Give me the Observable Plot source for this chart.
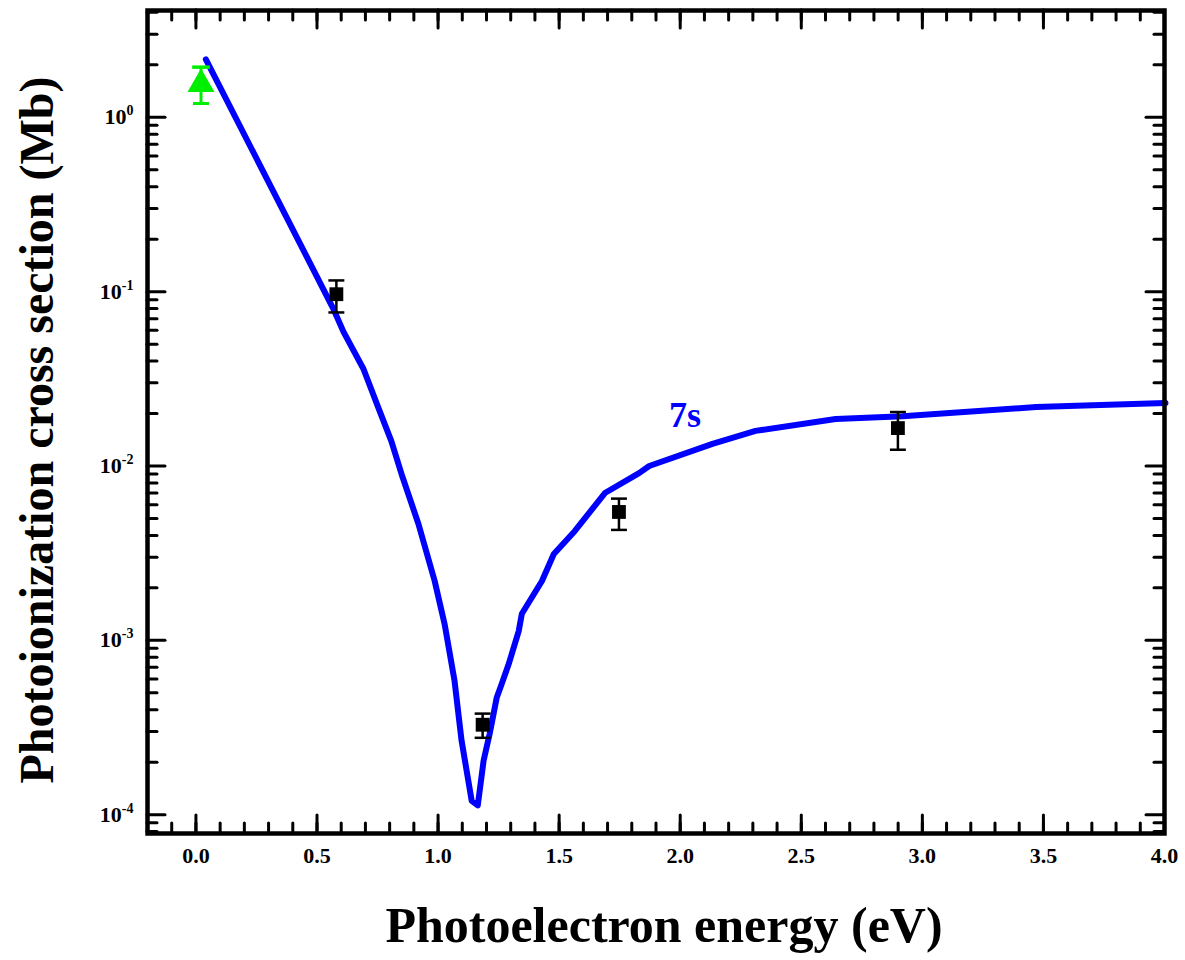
<!DOCTYPE html>
<html>
<head>
<meta charset="utf-8">
<script src="https://cdn.jsdelivr.net/npm/d3@7"></script>
<script src="https://cdn.jsdelivr.net/npm/@observablehq/plot@0.6"></script>
<style>
  html, body { margin: 0; padding: 0; background: #ffffff; }
  #chart svg { display: block; }
</style>
</head>
<body>
<div id="chart"></div>
<script>
// ---- Theory curve (7s) ----
const curveX = [0.041, 0.567, 0.609, 0.692, 0.754, 0.807, 0.849, 0.919, 0.986, 1.027, 1.068, 1.097, 1.139, 1.164, 1.188, 1.213, 1.242, 1.263, 1.292, 1.333, 1.346, 1.429, 1.478, 1.565, 1.689, 1.830, 1.872, 2.133, 2.311, 2.642, 2.919, 3.470, 4.004];
const curveY = [2.15, 0.080, 0.059, 0.036, 0.0215, 0.0139, 0.0090, 0.00465, 0.00219, 0.00124, 5.86e-4, 2.66e-4, 1.20e-4, 1.13e-4, 2.04e-4, 2.91e-4, 4.68e-4, 5.63e-4, 7.33e-4, 1.13e-3, 1.42e-3, 2.19e-3, 3.13e-3, 4.24e-3, 7.0e-3, 9.1e-3, 0.0100, 0.0134, 0.0159, 0.0186, 0.0193, 0.0218, 0.0230];

// ---- Experimental points (black squares) ----
const expX  = [0.58, 1.184, 1.747, 2.899];
const expY  = [0.0967, 3.28e-4, 5.45e-3, 0.0165];
const expLo = [0.076, 2.76e-4, 4.3e-3, 0.0124];
const expHi = [0.116, 3.8e-4, 6.5e-3, 0.0204];

// ---- Experimental point (green triangle) ----
const triX  = [0.021];
const triY  = [1.55];
const triLo = [1.2];
const triHi = [1.94];

// ---- Annotation ----
const annText = ["7s"];
const annX = [2.02];
const annY = [0.0194];

// ---- Axes ----
const xTickValues = [0.0, 0.5, 1.0, 1.5, 2.0, 2.5, 3.0, 3.5, 4.0];
const xTickLabels = ["0.0", "0.5", "1.0", "1.5", "2.0", "2.5", "3.0", "3.5", "4.0"];
const xMinorValues = d3.range(-1, 40).map(i => i / 10);
const yTickValues = [1e-4, 1e-3, 1e-2, 1e-1, 1];
const yTickExponents = ["-4", "-3", "-2", "-1", "0"];
const xDomain = [-0.2, 4.0];
const yDomain = [7.8e-5, 4.1];
const yMinorValues = [];
for (const dec of [1e-5, 1e-4, 1e-3, 1e-2, 1e-1, 1]) for (let m = 2; m <= 9; m++) {
  const v = dec * m; if (v >= yDomain[0] && v <= yDomain[1]) yMinorValues.push(v);
}

const xLabel = "Photoelectron energy (eV)";
const yLabel = "Photoionization cross section (Mb)";

// ---- Tables ----
const curve = curveX.map((x, i) => ({x, y: curveY[i]}));
const exp = expX.map((x, i) => ({x, y: expY[i], lo: expLo[i], hi: expHi[i]}));
const tri = triX.map((x, i) => ({x, y: triY[i], lo: triLo[i], hi: triHi[i]}));
const ann = annText.map((t, i) => ({t, x: annX[i], y: annY[i]}));

const W = 1185, H = 960;
const mL = 147, mR = 21, mT = 10, mB = 127;
const pW = W - mL - mR, pH = H - mT - mB;
const majorLen = 18, minorLen = 10;
const tickStyle = {stroke: "#000", strokeWidth: 3, strokeLinecap: "round"};

const capSymbol = {
  draw(ctx, size) {
    const w = Math.sqrt(size);
    ctx.moveTo(-w, 0); ctx.lineTo(w, 0);
  }
};

const fontFam = "'Liberation Serif', 'Times New Roman', serif";

const chart = Plot.plot({
  width: W, height: H,
  marginLeft: mL, marginRight: mR, marginTop: mT, marginBottom: mB,
  style: {fontFamily: fontFam, background: "#ffffff", color: "#000"},
  x: {domain: xDomain},
  y: {type: "log", domain: yDomain},
  marks: [
    // inward ticks on all four sides
    Plot.ruleY(yTickValues, {y: d => d, insetRight: pW - majorLen, ...tickStyle}),
    Plot.ruleY(yMinorValues, {y: d => d, insetRight: pW - minorLen, ...tickStyle}),
    Plot.ruleY(yTickValues, {y: d => d, insetLeft: pW - majorLen, ...tickStyle}),
    Plot.ruleY(yMinorValues, {y: d => d, insetLeft: pW - minorLen, ...tickStyle}),
    Plot.ruleX(xTickValues, {x: d => d, insetTop: pH - majorLen, ...tickStyle}),
    Plot.ruleX(xMinorValues, {x: d => d, insetTop: pH - minorLen, ...tickStyle}),
    Plot.ruleX(xTickValues, {x: d => d, insetBottom: pH - majorLen, ...tickStyle}),
    Plot.ruleX(xMinorValues, {x: d => d, insetBottom: pH - minorLen, ...tickStyle}),

    Plot.axisX({ticks: xTickValues, tickFormat: d => xTickLabels[xTickValues.indexOf(d)], tickSize: 0, tickPadding: 14, fontSize: 22, fontWeight: "bold", label: null}),
    Plot.axisY({ticks: yTickValues, tickFormat: d => "10^" + yTickExponents[yTickValues.indexOf(d)], tickSize: 0, tickPadding: 14, fontSize: 22, fontWeight: "bold", label: null}),

    // theory curve
    Plot.line(curve, {x: "x", y: "y", stroke: "#0000ff", strokeWidth: 6, strokeLinejoin: "round", strokeLinecap: "round"}),

    // black squares with error bars
    Plot.ruleX(exp, {x: "x", y1: "lo", y2: "hi", stroke: "#000", strokeWidth: 2.5}),
    Plot.dot(exp, {x: "x", y: "lo", symbol: capSymbol, r: 4.5, stroke: "#000", strokeWidth: 2.5, fill: "none"}),
    Plot.dot(exp, {x: "x", y: "hi", symbol: capSymbol, r: 4.5, stroke: "#000", strokeWidth: 2.5, fill: "none"}),
    Plot.dot(exp, {x: "x", y: "y", symbol: "square", r: 7.8, fill: "#000", stroke: "none"}),

    // green triangle with error bar
    Plot.ruleX(tri, {x: "x", y1: "lo", y2: "hi", stroke: "#00ee00", strokeWidth: 3}),
    Plot.dot(tri, {x: "x", y: "lo", symbol: capSymbol, r: 4.5, stroke: "#00ee00", strokeWidth: 3, fill: "none"}),
    Plot.dot(tri, {x: "x", y: "hi", symbol: capSymbol, r: 5, stroke: "#00ee00", strokeWidth: 3.5, fill: "none"}),
    Plot.dot(tri, {x: "x", y: "y", symbol: "triangle", r: 10, fill: "#00ee00", stroke: "none"}),

    // annotation
    Plot.text(ann, {x: "x", y: "y", text: "t", fill: "#0000ff", fontSize: 36, fontWeight: "bold", fontFamily: fontFam}),

    // axis titles
    Plot.text([xLabel], {text: d => d, frameAnchor: "bottom", textAnchor: "middle", dx: 8, dy: 108, fontSize: 50, fontWeight: "bold", fontFamily: fontFam, fill: "#000"}),
    Plot.text([yLabel], {text: d => d, frameAnchor: "left", textAnchor: "middle", rotate: -90, dx: -110, dy: 8, fontSize: 48, fontWeight: "bold", fontFamily: fontFam, fill: "#000"}),

    Plot.frame({stroke: "#000", strokeWidth: 4.5})
  ]
});

// superscript exponents on the y tick labels
d3.select(chart).selectAll("text").each(function() {
  const s = this.textContent;
  const m = /^10\^(-?\d+)$/.exec(s);
  if (!m) return;
  const t = d3.select(this);
  t.text(null);
  t.append("tspan").text("10");
  t.append("tspan").attr("font-size", 14).attr("dy", -9).text(m[1]);
});

document.getElementById("chart").appendChild(chart);
</script>
</body>
</html>
